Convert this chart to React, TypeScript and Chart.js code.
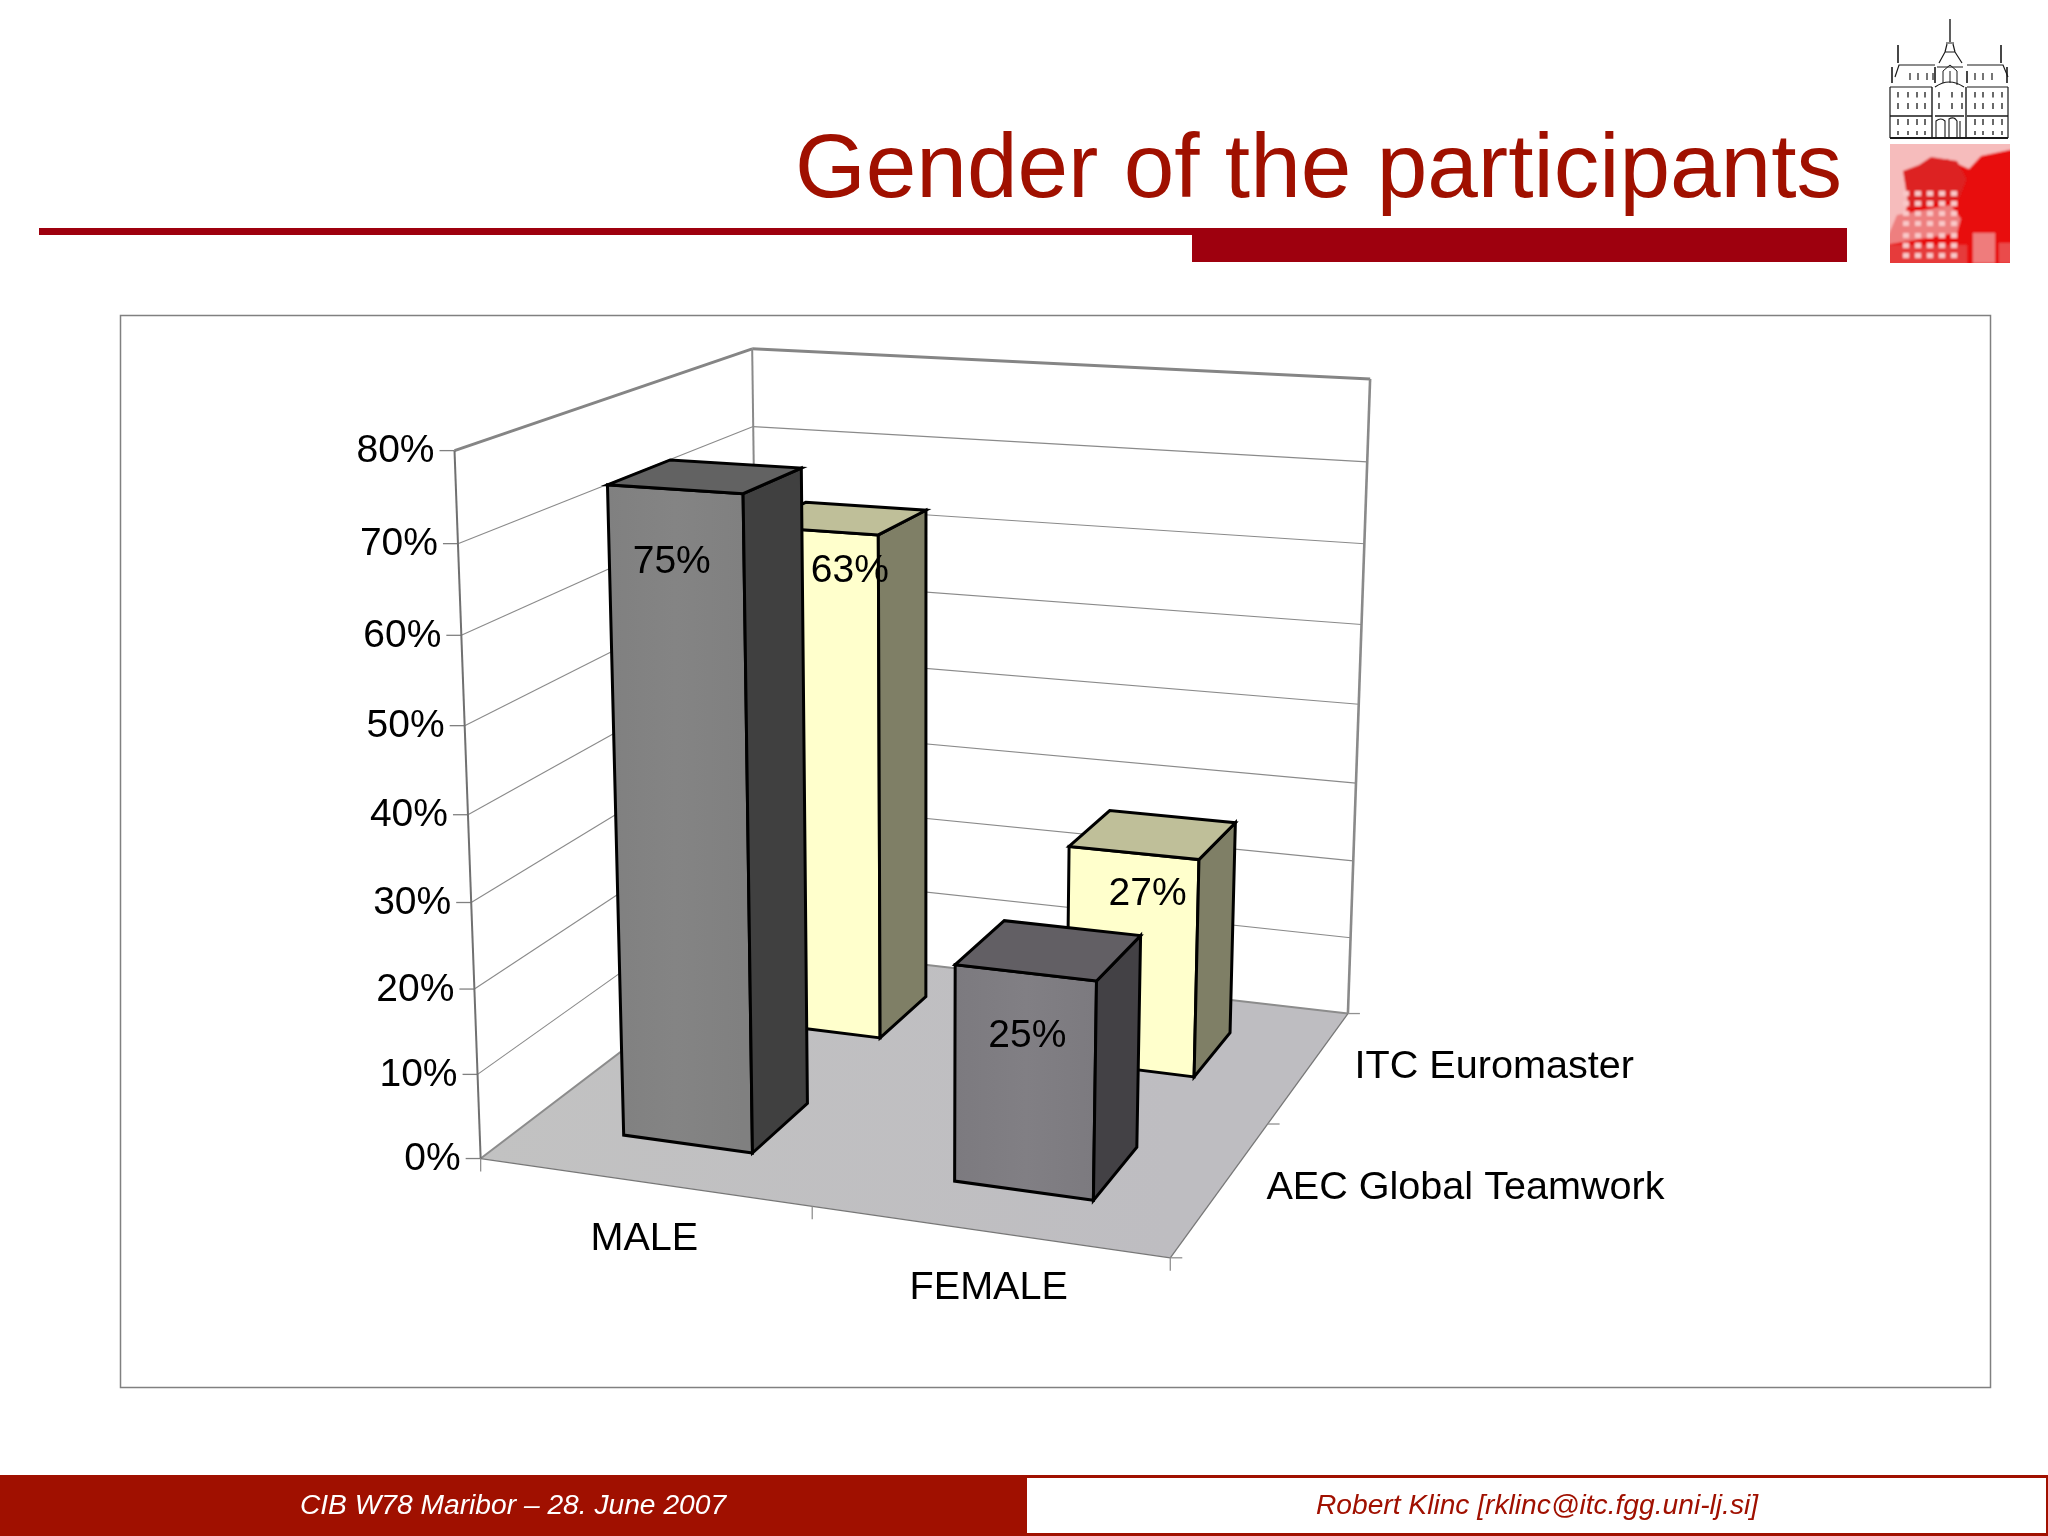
import React, { useEffect, useRef } from "react";
import { Chart, registerables } from "chart.js";

Chart.register(...registerables);

const genders = ["MALE", "FEMALE"];
const seriesNames = ["AEC Global Teamwork", "ITC Euromaster"];
const aecValues = [75, 25];
const itcValues = [63, 27];
const valueTicks = [0, 10, 20, 30, 40, 50, 60, 70, 80];
const tickLabels = ["0%", "10%", "20%", "30%", "40%", "50%", "60%", "70%", "80%"];

const titleText = "Gender of the participants";
const footerLeft = "CIB W78 Maribor \u2013 28. June 2007";
const footerRight = "Robert Klinc [rklinc@itc.fgg.uni-lj.si]";

const K = 2048 / 1568;
const FONT = '"Liberation Sans", Arial, sans-serif';
const DARK_RED = "#a01000";
const BAR_RED = "#9e000e";

type Pt = [number, number];

function makeProjector() {
  const [x0, y0] = [368 * K, 887 * K];
  const [x1, y1] = [896 * K, 963 * K];
  const [x2, y2] = [1032 * K, 776 * K];
  const [x3, y3] = [582 * K, 724 * K];
  const dx1 = x1 - x2, dx2 = x3 - x2, sx = x0 - x1 + x2 - x3;
  const dy1 = y1 - y2, dy2 = y3 - y2, sy = y0 - y1 + y2 - y3;
  const den = dx1 * dy2 - dx2 * dy1;
  const g = (sx * dy2 - dx2 * sy) / den;
  const h = (dx1 * sy - sx * dy1) / den;
  const a = x1 - x0 + g * x1, b = x3 - x0 + h * x3;
  const d = y1 - y0 + g * y1, e = y3 - y0 + h * y3;
  const vx = 707 * K, vy = 10068 * K;
  const s = (y0 - 345 * K) / (345 * K - vy);
  return (u: number, v: number, w: number): Pt => {
    const W = 1 + g * u + h * v + s * w;
    return [(a * u + b * v + x0 + s * w * vx) / W, (d * u + e * v + y0 + s * w * vy) / W];
  };
}

function poly(ctx: CanvasRenderingContext2D, pts: Pt[], fill: string | CanvasGradient | null, stroke?: string, lw = 1) {
  ctx.beginPath();
  pts.forEach((p, i) => (i ? ctx.lineTo(p[0], p[1]) : ctx.moveTo(p[0], p[1])));
  ctx.closePath();
  if (fill) {
    ctx.fillStyle = fill;
    ctx.fill();
  }
  if (stroke) {
    ctx.strokeStyle = stroke;
    ctx.lineWidth = lw;
    ctx.lineJoin = "miter";
    ctx.stroke();
  }
}

function seg(ctx: CanvasRenderingContext2D, a: Pt, b: Pt, color: string, lw: number) {
  ctx.beginPath();
  ctx.moveTo(a[0], a[1]);
  ctx.lineTo(b[0], b[1]);
  ctx.strokeStyle = color;
  ctx.lineWidth = lw;
  ctx.stroke();
}

function text(ctx: CanvasRenderingContext2D, s: string, x: number, y: number, font: string, color: string, align: CanvasTextAlign, base: CanvasTextBaseline = "middle") {
  ctx.font = font;
  ctx.fillStyle = color;
  ctx.textAlign = align;
  ctx.textBaseline = base;
  ctx.fillText(s, x, y);
}

const barStyles = [
  [
    { front: ["#808080", "#848484"], top: "#626262", side: "#404040" },
    { front: ["#7c7a7f", "#817f84"], top: "#625f64", side: "#434145" },
  ],
  [
    { front: ["#ffffcc", "#ffffcc"], top: "#bfbf99", side: "#7f7f66" },
    { front: ["#ffffcc", "#ffffcc"], top: "#bfbf99", side: "#7f7f66" },
  ],
];

const labelShift: Pt[][] = [
  [[-3, 73], [2, 64]],
  [[34, 41], [14, 41]],
];

const slidePlugin = {
  id: "slide3d",
  afterDraw(chart: any) {
    const ctx: CanvasRenderingContext2D = chart.ctx;
    const area = chart.chartArea;
    const P = makeProjector();
    const yS = chart.scales.y;
    const zS = chart.scales.z;
    const toU = (px: number) => (px - area.left) / area.width;
    const toW = (py: number) => (area.bottom - py) / area.height;
    const labelFont = `39.6px ${FONT}`;
    ctx.save();

    // slide furniture
    text(ctx, titleText, 1842, 197, `91px ${FONT}`, DARK_RED, "right", "alphabetic");
    ctx.fillStyle = BAR_RED;
    ctx.fillRect(39, 228, 1153, 7);
    ctx.fillRect(1192, 228, 655, 34);
    ctx.strokeStyle = "#808080";
    ctx.lineWidth = 1.5;
    ctx.strokeRect(120.5, 315.5, 1870, 1072);

    ctx.fillStyle = DARK_RED;
    ctx.fillRect(0, 1475, 2048, 61);
    ctx.fillStyle = "#ffffff";
    ctx.fillRect(1027, 1478, 1019, 55);
    text(ctx, footerLeft, 513, 1506, `italic 28.2px ${FONT}`, "#ffffff", "center");
    text(ctx, footerRight, 1537, 1506, `italic 28.2px ${FONT}`, DARK_RED, "center");

    // floor
    const floorGrad = ctx.createLinearGradient(P(0, 0, 0)[0], 0, P(1, 0, 0)[0], 0);
    floorGrad.addColorStop(0, "#c2c2c2");
    floorGrad.addColorStop(1, "#bebdc1");
    poly(ctx, [P(0, 0, 0), P(1, 0, 0), P(1, 1, 0), P(0, 1, 0)], floorGrad);
    seg(ctx, P(0, 0, 0), P(0, 1, 0), "#8c8c8c", 2);
    seg(ctx, P(0, 1, 0), P(1, 1, 0), "#8c8c8c", 2);
    seg(ctx, P(0, 0, 0), P(1, 0, 0), "#777777", 1.3);
    seg(ctx, P(1, 0, 0), P(1, 1, 0), "#777777", 1.3);

    // gridlines on the two walls, y ticks and labels
    const wallValues = yS.ticks.map((t: any) => t.value);
    wallValues.forEach((val: number, i: number) => {
      const w = toW(yS.getPixelForValue(val));
      const a = P(0, 0, w), b = P(0, 1, w), c = P(1, 1, w);
      if (i > 0 && i < wallValues.length - 1) {
        seg(ctx, a, b, "#8a8a8a", 1.1);
        seg(ctx, b, c, "#8a8a8a", 1.1);
      }
      seg(ctx, [a[0] - 15, a[1]], a, "#808080", 1.3);
      text(ctx, yS.ticks[i].label, a[0] - 20, a[1] + 1, `39px ${FONT}`, "#000000", "right");
    });
    const tL = P(0, 0, 1), tB = P(0, 1, 1), tR = P(1, 1, 1);
    seg(ctx, tL, tB, "#858585", 3);
    seg(ctx, tB, tR, "#858585", 3);
    seg(ctx, tB, P(0, 1, 0), "#8a8a8a", 2);
    seg(ctx, tR, P(1, 1, 0), "#8a8a8a", 2.6);
    seg(ctx, tL, P(0, 0, 0), "#707070", 2);

    // category ticks and labels
    [0, 0.5, 1].forEach((u) => {
      const p = P(u, 0, 0);
      seg(ctx, p, [p[0], p[1] + 13], "#909090", 1.3);
    });
    genders.forEach((name, i) => {
      const u = toU(chart.scales.x.getPixelForValue(i));
      const p = P(u, 0, 0);
      text(ctx, name, p[0] + 1, p[1] + 57, labelFont, "#000000", "center");
    });

    // depth ticks and labels
    [0, 0.5, 1].forEach((v) => {
      const p = P(1, v, 0);
      seg(ctx, p, [p[0] + 12, p[1]], "#909090", 1.3);
    });
    seriesNames.forEach((name, j) => {
      const v = toU(zS.getPixelForValue(j));
      const p = P(1, v, 0);
      text(ctx, name, p[0] + 45, p[1] + 1, labelFont, "#000000", "left");
    });

    // bars, back series first
    const drawOrder = [1, 0];
    drawOrder.forEach((j) => {
      const meta = chart.getDatasetMeta(j);
      const v = toU(zS.getPixelForValue(j));
      meta.data.forEach((el: any, i: number) => {
        const { x, y, width } = el.getProps(["x", "y", "width"], true);
        const half = width / 2;
        const u0 = toU(x - half), u1 = toU(x + half);
        const depth = (width / area.width) * 1.025;
        const v0 = v - depth / 2, v1 = v + depth / 2;
        const w = toW(y);
        const st = barStyles[j][i];
        const fbl = P(u0, v0, 0), fbr = P(u1, v0, 0), ftl = P(u0, v0, w), ftr = P(u1, v0, w);
        const bbr = P(u1, v1, 0), btl = P(u0, v1, w), btr = P(u1, v1, w);
        const grad = ctx.createLinearGradient(ftl[0], 0, ftr[0], 0);
        grad.addColorStop(0, st.front[0]);
        grad.addColorStop(0.5, st.front[1]);
        grad.addColorStop(1, st.front[0]);
        poly(ctx, [ftl, ftr, fbr, fbl], grad, "#000000", 3);
        poly(ctx, [ftr, btr, bbr, fbr], st.side, "#000000", 3);
        poly(ctx, [ftl, btl, btr, ftr], st.top, "#000000", 3);
        const c = P((u0 + u1) / 2, v0, w);
        const shift = labelShift[j][i];
        text(ctx, `${chart.data.datasets[j].data[i]}%`, c[0] + shift[0], c[1] + shift[1], `39px ${FONT}`, "#000000", "center");
      });
    });
    ctx.restore();
  },
};

function Logo() {
  const leftCols = [9, 19, 28, 36];
  const rightCols = [86, 94, 104, 113];
  const midCols = [50, 63, 73];
  const rows: [number, number][] = [[73, 5.5], [84, 6], [100, 6], [112, 4]];
  const roofCols = [21, 29, 38, 44, 86, 94, 103];
  const paleRows = [172, 182, 192, 202, 214, 224, 234];
  const paleCols = [14, 26, 38, 50, 62];
  return (
    <svg width={121} height={245} viewBox="0 0 121 245" style={{ position: "absolute", left: 1889, top: 19 }}>
      <defs>
        <filter id="soft" x="-5%" y="-5%" width="110%" height="110%">
          <feGaussianBlur stdDeviation="1.1" />
        </filter>
        <clipPath id="sq">
          <rect x={1} y={125} width={120} height={119} />
        </clipPath>
      </defs>
      <g fill="none" stroke="#1a1a1a" strokeWidth={1.2}>
        <path d="M61 0V23" strokeWidth={1.4} />
        <path d="M57 24H65M56 33L58 25M66 33L64 25M50 44L56 33H66L73 44M48 48H74" />
        <path d="M9 26V44M112 26V44" strokeWidth={1.6} />
        <path d="M6 58L10 46H46M119 58L114 46H78" />
        <path d="M3 48V64M46 48V64M78 52V64M118 48V64" strokeWidth={1.6} />
        <path d="M54 52L61 46L68 52V66M54 52V64M61 52V64" strokeWidth={1} />
        <path d="M1 68H43M46 68Q60 58 75 68M78 68H119M1 68V119M119 68V119" />
        <path d="M43 68V119M77 68V119M1 97H43M46 97H75M78 97H119" strokeWidth={1.4} />
        <path d="M1 119H119" strokeWidth={2} />
        <path d="M47 119V102Q52 98 56 102V119M60 119V100Q65 97 68 102V119M71 119V102" strokeWidth={1.1} />
        {rows.map(([r, l]) =>
          [...leftCols, ...rightCols].map((c) => <path key={`w${r}-${c}`} d={`M${c} ${r}v${l}`} strokeWidth={1.3} />)
        )}
        {rows.slice(0, 2).map(([r, l]) =>
          midCols.map((c) => <path key={`m${r}-${c}`} d={`M${c} ${r}v${l}`} strokeWidth={1.3} />)
        )}
        {roofCols.map((c) => (
          <path key={`rf${c}`} d={`M${c} 54v7`} strokeWidth={1.2} />
        ))}
      </g>
      <g clipPath="url(#sq)">
        <g filter="url(#soft)">
          <rect x={-5} y={120} width={130} height={130} fill="#e80808" />
          <path d="M-5 120H125V130L92 137L80 150L58 140L30 150L20 178L14 206L-5 222Z" fill="#f6bcbc" />
          <path d="M14 152L30 146L42 138L68 142L78 160L70 180L20 190Z" fill="#dd2020" />
          <path d="M8 196L62 186L72 200L68 214L-5 226Z" fill="#ee7f7f" />
          <path d="M-5 226H78V250H-5Z" fill="#e63b3b" />
          <path d="M84 214H106V244H84Z" fill="#ef7c7c" />
          <path d="M110 224H125V244H110Z" fill="#ea4b4b" />
          {paleRows.map((r) =>
            paleCols.map((c) => <rect key={`p${r}-${c}`} x={c} y={r} width={6} height={5} fill="#f9c8c8" />)
          )}
        </g>
      </g>
    </svg>
  );
}

export default function App() {
  const ref = useRef<HTMLCanvasElement>(null);
  useEffect(() => {
    document.body.style.margin = "0";
    const chart = new Chart(ref.current!, {
      type: "bar",
      data: {
        labels: genders,
        datasets: [
          { label: seriesNames[0], data: aecValues, backgroundColor: "transparent", grouped: false, barPercentage: 0.398, categoryPercentage: 1 },
          { label: seriesNames[1], data: itcValues, backgroundColor: "transparent", grouped: false, barPercentage: 0.398, categoryPercentage: 1 },
        ],
      } as any,
      options: {
        animation: false,
        responsive: false,
        devicePixelRatio: 1,
        layout: { padding: 0 },
        plugins: { legend: { display: false }, tooltip: { enabled: false } },
        scales: {
          x: { type: "category", display: false, offset: true },
          z: { type: "category", axis: "x", position: "bottom", labels: seriesNames, display: false, offset: true },
          y: {
            type: "linear",
            display: false,
            min: valueTicks[0],
            max: valueTicks[valueTicks.length - 1],
            ticks: { stepSize: 10, callback: (_v: any, i: number) => tickLabels[i] },
          },
        },
      } as any,
      plugins: [slidePlugin],
    });
    return () => chart.destroy();
  }, []);
  return (
    <div style={{ position: "absolute", left: 0, top: 0, width: 2048, height: 1536, overflow: "hidden", background: "#fff" }}>
      <canvas ref={ref} width={2048} height={1536} style={{ display: "block" }} />
      <Logo />
    </div>
  );
}
